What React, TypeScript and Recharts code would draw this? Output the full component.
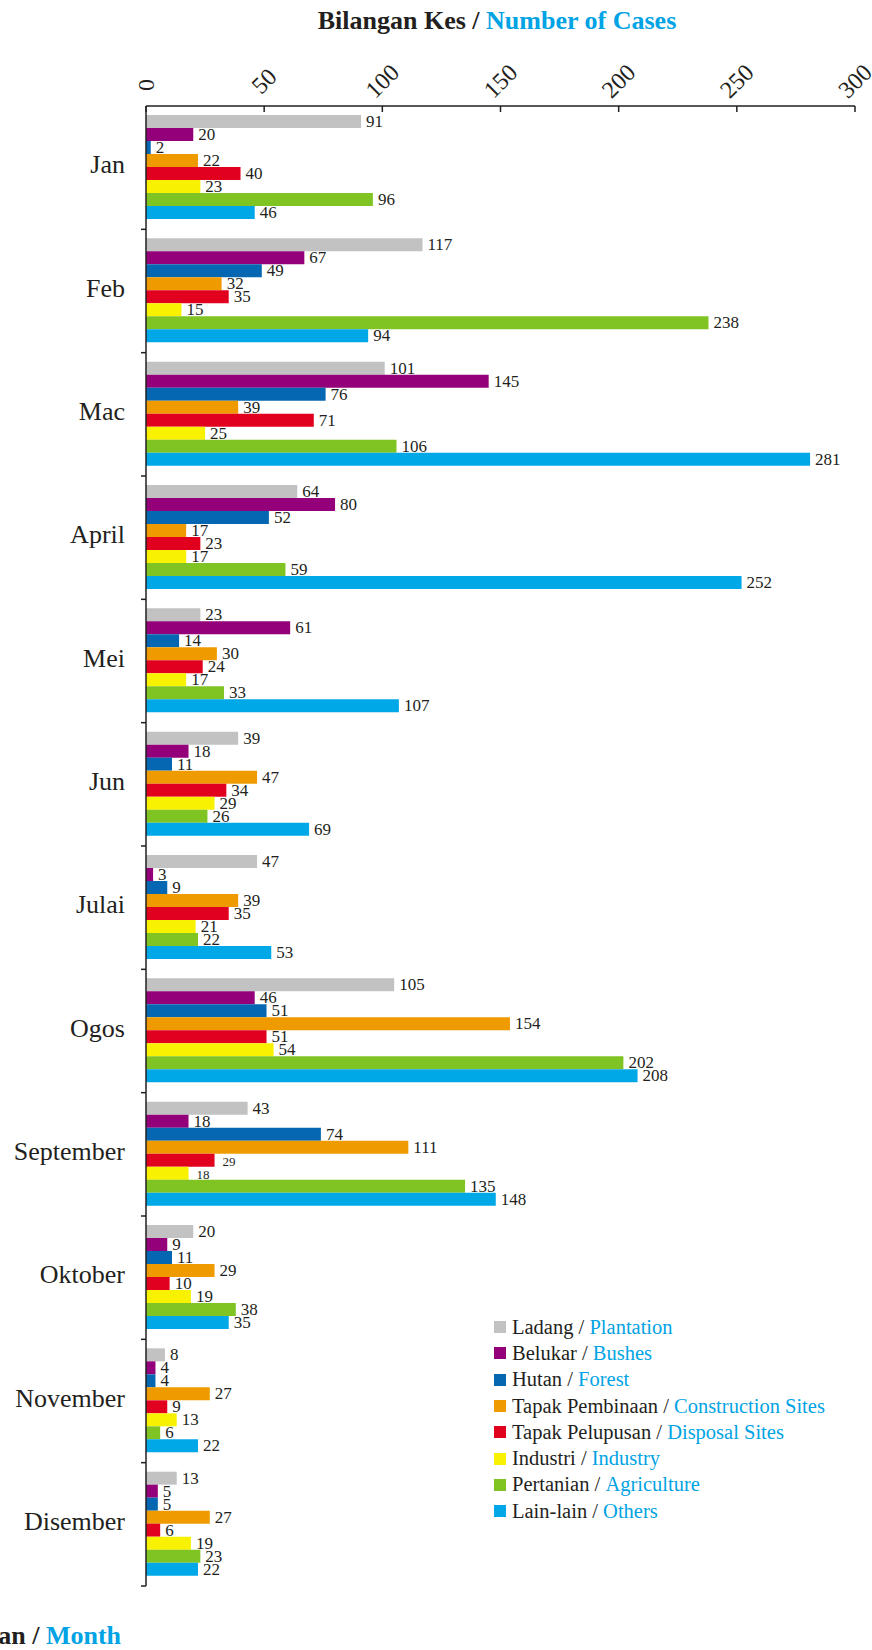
import { BarChart, Bar, XAxis, YAxis, Legend, LabelList } from "recharts";

const months = ["Jan", "Feb", "Mac", "April", "Mei", "Jun", "Julai", "Ogos", "September", "Oktober", "November", "Disember"];
const ladang = [91, 117, 101, 64, 23, 39, 47, 105, 43, 20, 8, 13];
const belukar = [20, 67, 145, 80, 61, 18, 3, 46, 18, 9, 4, 5];
const hutan = [2, 49, 76, 52, 14, 11, 9, 51, 74, 11, 4, 5];
const tapakPembinaan = [22, 32, 39, 17, 30, 47, 39, 154, 111, 29, 27, 27];
const tapakPelupusan = [40, 35, 71, 23, 24, 34, 35, 51, 29, 10, 9, 6];
const industri = [23, 15, 25, 17, 17, 29, 21, 54, 18, 19, 13, 19];
const pertanian = [96, 238, 106, 59, 33, 26, 22, 202, 135, 38, 6, 23];
const lainLain = [46, 94, 281, 252, 107, 69, 53, 208, 148, 35, 22, 22];
const xTicks = [0, 50, 100, 150, 200, 250, 300];

// the two September labels printed in a smaller type in the original
const smallLabels = ["pelupusan-September", "industri-September"];

const series = [
  { key: "ladang", ms: "Ladang", en: "Plantation", color: "#c2c2c2", values: ladang },
  { key: "belukar", ms: "Belukar", en: "Bushes", color: "#93007a", values: belukar },
  { key: "hutan", ms: "Hutan", en: "Forest", color: "#0567b1", values: hutan },
  { key: "pembinaan", ms: "Tapak Pembinaan", en: "Construction Sites", color: "#ef9b00", values: tapakPembinaan },
  { key: "pelupusan", ms: "Tapak Pelupusan", en: "Disposal Sites", color: "#e2001f", values: tapakPelupusan },
  { key: "industri", ms: "Industri", en: "Industry", color: "#f8f100", values: industri },
  { key: "pertanian", ms: "Pertanian", en: "Agriculture", color: "#80c423", values: pertanian },
  { key: "lain", ms: "Lain-lain", en: "Others", color: "#00a8e8", values: lainLain },
];

const data = months.map((month, i) => {
  const row: Record<string, string | number> = { month };
  series.forEach((s) => (row[s.key] = s.values[i]));
  return row;
});

const W = 872;
const H = 1650;
const TOP = 106;
const LEFT = 146;
const RIGHT = 17;
const BOTTOM = 64;
const BAND = (H - TOP - BOTTOM) / months.length;
const SERIF = "'Liberation Serif', 'DejaVu Serif', serif";
const INK = "#231f20";
const BLUE = "#00a3e4";

const TopTick = (props: any) => {
  const { x, y, payload } = props;
  const angle = payload.value === 0 ? -90 : -45;
  const cy = payload.value === 0 ? y - 21 : y - 25;
  return (
    <g>
      <line x1={x} x2={x} y1={y} y2={y + 6} stroke={INK} strokeWidth={1.5} />
      <text
        x={x}
        y={cy}
        textAnchor="middle"
        dominantBaseline="central"
        transform={`rotate(${angle} ${x} ${cy})`}
        fontSize={24}
        fontFamily={SERIF}
        fill={INK}
      >
        {payload.value}
      </text>
    </g>
  );
};

const MonthTick = (props: any) => {
  const { x, y, payload } = props;
  return (
    <g>
      <line x1={x} x2={x - 5} y1={y + BAND / 2} y2={y + BAND / 2} stroke={INK} strokeWidth={1.5} />
      <text x={x - 21} y={y - 3} textAnchor="end" dominantBaseline="central" fontSize={26} fontFamily={SERIF} fill={INK}>
        {payload.value}
      </text>
    </g>
  );
};

const makeLabel = (key: string) => (props: any) => {
  const { x, y, width, height, value, index } = props;
  const small = smallLabels.includes(`${key}-${months[index]}`);
  return (
    <text
      x={x + width + (small ? 8 : 5)}
      y={y + height / 2 + (small ? 1 : 0)}
      dominantBaseline="central"
      fontSize={small ? 13 : 17}
      fontFamily={SERIF}
      fill={INK}
    >
      {value}
    </text>
  );
};

const renderLegend = () => (
  <div style={{ fontFamily: SERIF, fontSize: 20.5 }}>
    {series.map((s) => (
      <div key={s.key} style={{ display: "flex", alignItems: "center", height: 26.3, whiteSpace: "nowrap" }}>
        <span style={{ display: "inline-block", width: 12, height: 12, background: s.color, marginRight: 6 }} />
        <span style={{ color: INK }}>{s.ms} /&nbsp;</span>
        <span style={{ color: BLUE }}>{s.en}</span>
      </div>
    ))}
  </div>
);

export default function App() {
  return (
    <div style={{ position: "absolute", left: 0, top: 0, width: W, height: H, background: "#fff" }}>
      <div
        style={{
          position: "absolute",
          left: 497,
          top: 7,
          transform: "translateX(-50%)",
          whiteSpace: "nowrap",
          fontFamily: SERIF,
          fontWeight: "bold",
          fontSize: 26,
          lineHeight: "28px",
          color: INK,
        }}
      >
        Bilangan Kes / <span style={{ color: BLUE }}>Number of Cases</span>
      </div>
      <BarChart
        width={W}
        height={H}
        data={data}
        layout="vertical"
        margin={{ top: 0, right: RIGHT, bottom: BOTTOM, left: 0 }}
        barCategoryGap={9}
        barGap={0}
      >
        <XAxis
          type="number"
          orientation="top"
          domain={[0, 300]}
          ticks={xTicks}
          height={TOP}
          tickSize={0}
          tickMargin={0}
          tick={<TopTick />}
          axisLine={{ stroke: INK, strokeWidth: 1.5 }}
          interval={0}
        />
        <YAxis
          type="category"
          dataKey="month"
          width={LEFT}
          tickSize={0}
          tickMargin={0}
          tick={<MonthTick />}
          axisLine={{ stroke: INK, strokeWidth: 1.5 }}
          interval={0}
        />
        <Legend
          layout="vertical"
          align="center"
          verticalAlign="middle"
          content={renderLegend}
          wrapperStyle={{ left: 494, top: 1314, width: "auto" }}
        />
        {series.map((s) => (
          <Bar key={s.key} dataKey={s.key} fill={s.color} isAnimationActive={false}>
            <LabelList dataKey={s.key} content={makeLabel(s.key)} />
          </Bar>
        ))}
      </BarChart>
      <div
        style={{
          position: "absolute",
          right: W - 121,
          top: 1622,
          whiteSpace: "nowrap",
          fontFamily: SERIF,
          fontWeight: "bold",
          fontSize: 26,
          lineHeight: "28px",
          color: INK,
        }}
      >
        Bulan / <span style={{ color: BLUE }}>Month</span>
      </div>
    </div>
  );
}
